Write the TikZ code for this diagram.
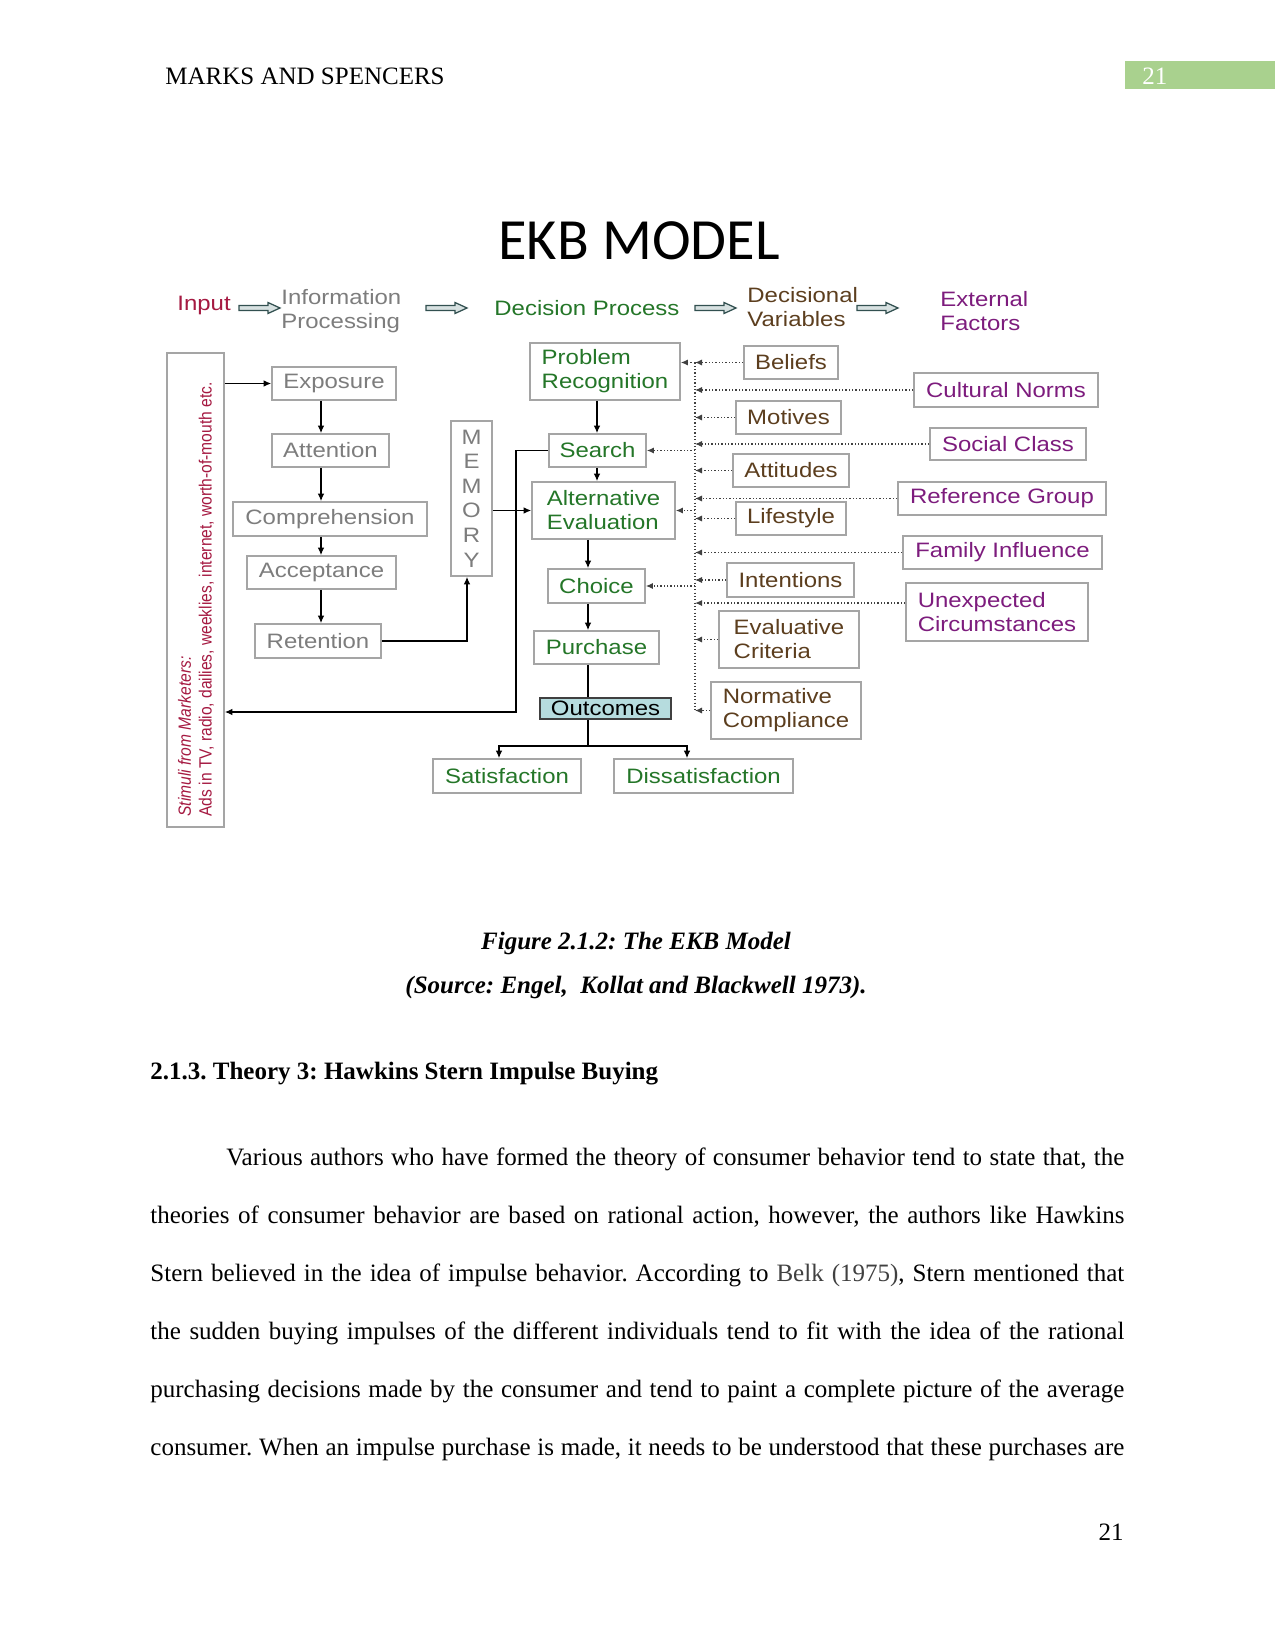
\documentclass[tikz,border=0pt]{standalone}
\usepackage{fontspec}
\setmainfont{Liberation Serif}
\newfontfamily\dia[FakeStretch=1.15]{Liberation Sans}
\newfontfamily\diaN[FakeStretch=0.88]{Liberation Sans}
\newfontfamily\ttl{Carlito}
\usetikzlibrary{arrows.meta,calc}
\definecolor{dgreen}{RGB}{36,118,40}
\definecolor{tgray}{RGB}{125,125,125}
\definecolor{brn}{RGB}{92,62,30}
\definecolor{purp}{RGB}{125,28,125}
\definecolor{crim}{RGB}{165,25,65}
\definecolor{boxgray}{RGB}{165,165,165}
\definecolor{outfill}{RGB}{182,220,222}
\definecolor{dslate}{RGB}{50,80,80}
\definecolor{afill}{RGB}{215,225,225}
\definecolor{hgreen}{RGB}{169,209,142}
\newcommand\dfont{\dia\fontsize{10pt}{11.5pt}\selectfont}
\newcommand\pfont{\fontsize{12pt}{14pt}\selectfont}
\newcommand\bx[7]{\node[#6,minimum width={(#4-#2)*0.48pt},minimum height={(#5-#3)*0.48pt}] (#1) at ({(#2+#4)/2},{(#3+#5)/2}) {#7};}
\newcommand\blockarr[2]{\draw[blk] ($(#1)+(0,-2.5)$) -- ($(#2)+(-12,-2.5)$) -- ($(#2)+(-12,-5.5)$) -- (#2) -- ($(#2)+(-12,5.5)$) -- ($(#2)+(-12,2.5)$) -- ($(#1)+(0,2.5)$) -- cycle;}
\frenchspacing
\begin{document}
\begin{tikzpicture}[x=0.48pt,y=-0.48pt,
  bxs/.style={draw=boxgray,line width=0.8pt,inner sep=0pt,font=\dfont,align=center},
  gb/.style={bxs,text=tgray},
  grb/.style={bxs,text=dgreen},
  brb/.style={bxs,text=brn},
  pub/.style={bxs,text=purp},
  hd/.style={inner sep=0pt,font=\dfont,align=left,anchor=west},
  arr/.style={line width=0.6pt,-{Latex[length=3.6pt,width=3.2pt]}},
  ln/.style={line width=0.6pt},
  dotl/.style={densely dotted,line width=0.6pt,black!75},
  dotarr/.style={dotl,-{Latex[length=3.4pt,width=3pt]}},
  blk/.style={draw=dslate,fill=afill,line width=0.6pt,line join=miter},
  pg/.style={inner sep=0pt,font=\pfont}]
\useasboundingbox (0,0) rectangle (1275,1650);
\fill[white] (0,0) rectangle (1275,1650);
% page header
\node[pg,anchor=base west] (hdr) at (165,85) {MARKS AND SPENCERS};
\node[fill=hgreen,inner sep=0pt,minimum width={150*0.48pt},minimum height={28*0.48pt}] (pgbox) at (1200,75) {};
\node[pg,anchor=base west,text=white] (pgn) at (1142,85) {21};
% title
\node[inner sep=0pt,font=\ttl\fontsize{28pt}{30pt}\selectfont,anchor=base] (title) at (639,260) {EKB MODEL};
% column headers
\node[hd,text=crim] (inp) at (177,305) {Input};
\node[hd,text=tgray] (inf) at (281,311) {Information\\Processing};
\node[hd,text=dgreen] (dec) at (494,308) {Decision Process};
\node[hd,text=brn] (dv) at (747,307.5) {Decisional\\Variables};
\node[hd,text=purp] (ef) at (940,311) {External\\Factors};
\coordinate (a1s) at (239,308); \coordinate (a1e) at (280,308);
\coordinate (a2s) at (426,308); \coordinate (a2e) at (467,308);
\coordinate (a3s) at (695,308); \coordinate (a3e) at (736,308);
\coordinate (a4s) at (857,308); \coordinate (a4e) at (898,308);
\blockarr{a1s}{a1e}
\blockarr{a2s}{a2e}
\blockarr{a3s}{a3e}
\blockarr{a4s}{a4e}
% stimuli
\bx{stim}{167}{353}{224}{827}{bxs}{}
\node[rotate=90,anchor=west,inner sep=0pt,align=left,text=crim,font=\diaN\fontsize{8.5pt}{10pt}\selectfont] (stimt) at (196,817) {{\itshape Stimuli from Marketers:}\\Ads in TV, radio, dailies, weeklies, internet, worth-of-mouth etc.};
% information processing
\bx{expo}{272}{367}{396}{400}{gb}{Exposure}
\bx{attn}{272}{434}{389}{467}{gb}{Attention}
\bx{comp}{233}{502}{427}{536}{gb}{Comprehension}
\bx{acc}{247}{556}{396}{589}{gb}{Acceptance}
\bx{ret}{255}{624}{381}{658}{gb}{Retention}
\node[gb,font=\dia\fontsize{10pt}{11.8pt}\selectfont,minimum width={41*0.48pt},minimum height={155*0.48pt}] (mem) at (471.5,498.5) {M\\E\\M\\O\\R\\Y};
% decision process
\bx{pr}{530}{343}{680}{400}{grb,align=left}{Problem\\Recognition}
\bx{srch}{549}{434}{646}{467}{grb}{Search}
\bx{alt}{532}{482}{675}{539}{grb,align=left}{Alternative\\Evaluation}
\bx{cho}{548}{569}{645}{603}{grb}{Choice}
\bx{pur}{534}{631}{659}{664}{grb}{Purchase}
\bx{out}{540}{698}{671}{719}{bxs,draw=black!75,fill=outfill,text=black}{Outcomes}
\bx{sat}{433}{759}{581}{793}{grb}{Satisfaction}
\bx{dis}{614}{759}{793}{793}{grb}{Dissatisfaction}
% decisional variables
\bx{bel}{744}{346}{838}{379}{brb}{Beliefs}
\bx{mot}{736}{401}{841}{434}{brb}{Motives}
\bx{atd}{733}{454}{849}{487}{brb}{Attitudes}
\bx{lif}{736}{502}{846}{535}{brb}{Lifestyle}
\bx{int}{727}{563}{854}{597}{brb}{Intentions}
\bx{evc}{719}{611}{859}{668}{brb,align=left}{Evaluative\\Criteria}
\bx{nor}{711}{682}{861}{739}{brb,align=left}{Normative\\Compliance}
% external factors
\bx{cul}{914}{373}{1098}{407}{pub}{Cultural Norms}
\bx{soc}{930}{428}{1086}{460}{pub}{Social Class}
\bx{ref}{898}{482}{1106}{515}{pub}{Reference Group}
\bx{fam}{903}{536}{1102}{569}{pub}{Family Influence}
\bx{une}{906}{583}{1088}{641}{pub,align=left}{Unexpected\\Circumstances}
% solid connectors
\coordinate (cI) at (321,0);
\draw[arr] (stim.east |- expo.west) -- (expo.west);
\foreach \a/\b in {expo/attn,attn/comp,comp/acc,acc/ret} \draw[arr] (\a.south -| cI) -- (\b.north -| cI);
\coordinate (mX) at (467,0);
\draw[arr] (ret.east) -| (mX |- mem.south);
\draw[arr] (mem.east |- alt.west) -- (alt.west);
\coordinate (lp) at (516,712);
\draw[arr] (srch.west) -| (lp) -- (stim.east |- lp);
\coordinate (c1) at (597,0);
\coordinate (c2) at (588,0);
\draw[arr] (pr.south -| c1) -- (srch.north -| c1);
\draw[arr] (srch.south -| c1) -- (alt.north -| c1);
\draw[arr] (alt.south -| c2) -- (cho.north -| c2);
\draw[arr] (cho.south -| c2) -- (pur.north -| c2);
\draw[ln] (pur.south -| c2) -- (out.north -| c2);
\coordinate (br) at (588,746);
\coordinate (bl) at (499,746);
\coordinate (brr) at (687,746);
\draw[ln] (out.south -| c2) -- (br);
\draw[arr] (br) -- (bl) -- (bl |- sat.north);
\draw[arr] (br) -- (brr) -- (brr |- dis.north);
% dotted connectors
\coordinate (vx) at (695,0);
\coordinate (uw) at ($(une.north west)!0.35!(une.south west)$);
\draw[dotl] (vx |- bel.west) -- (vx |- nor.west);
\foreach \i in {bel,cul,mot,soc,atd,ref,lif,fam,int,evc,nor} \draw[dotarr] (\i.west) -- (vx |- \i.west);
\draw[dotarr] (uw) -- (vx |- uw);
\draw[dotarr] (vx |- bel.west) -- (pr.east |- bel.west);
\draw[dotarr] (vx |- srch.east) -- (srch.east);
\draw[dotarr] (vx |- alt.east) -- (alt.east);
\draw[dotarr] (vx |- cho.east) -- (cho.east);
% caption
\node[pg,anchor=base,font=\pfont\bfseries\itshape] (cap1) at (636,949) {Figure 2.1.2: The EKB Model};
\node[pg,anchor=base,font=\pfont\bfseries\itshape] (cap2) at (636,993) {(Source: Engel,\ \ Kollat and Blackwell 1973).};
\node[pg,anchor=base west,font=\pfont\bfseries] (h213) at (150,1079) {2.1.3. Theory 3: Hawkins Stern Impulse Buying};
% body
\node[pg,anchor=base west] (l1) at (226,1165) {\makebox[431pt][s]{Various authors who have formed the theory of consumer behavior tend to state that, the}};
\node[pg,anchor=base west] (l2) at (150,1223) {\makebox[467.5pt][s]{theories of consumer behavior are based on rational action, however, the authors like Hawkins}};
\node[pg,anchor=base west] (l3) at (150,1281) {\makebox[467.5pt][s]{Stern believed in the idea of impulse behavior. According to \textcolor{black!75}{Belk (1975)}, Stern mentioned that}};
\node[pg,anchor=base west] (l4) at (150,1339) {\makebox[467.5pt][s]{the sudden buying impulses of the different individuals tend to fit with the idea of the rational}};
\node[pg,anchor=base west] (l5) at (150,1397) {\makebox[467.5pt][s]{purchasing decisions made by the consumer and tend to paint a complete picture of the average}};
\node[pg,anchor=base west] (l6) at (150,1455) {\makebox[467.5pt][s]{consumer. When an impulse purchase is made, it needs to be understood that these purchases are}};
\node[pg,anchor=base east] (pnum) at (1124,1540) {21};
\end{tikzpicture}
\end{document}
